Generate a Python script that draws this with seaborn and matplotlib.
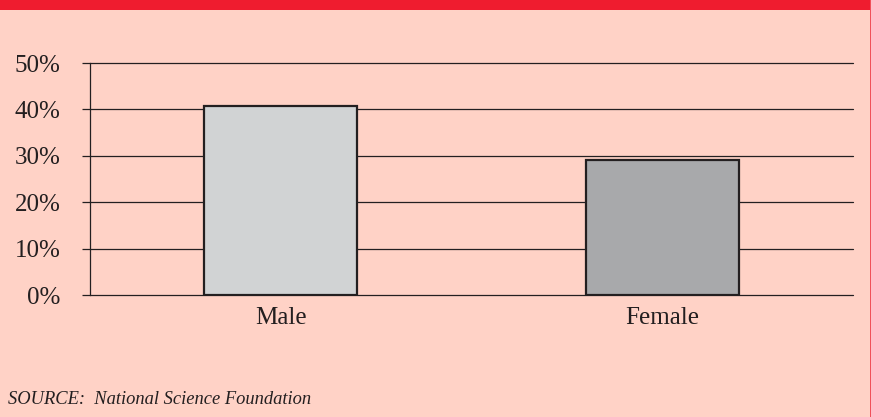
import matplotlib
matplotlib.use("Agg")
import matplotlib.pyplot as plt
import seaborn as sns
import pandas as pd
from matplotlib.patches import Rectangle
from matplotlib.ticker import FuncFormatter

categories = ["Male", "Female"]
values = [40.8, 29.0]
bar_colors = ["#D1D3D4", "#A7A9AC"]
yticks = [0, 10, 20, 30, 40, 50]
source = "SOURCE:  National Science Foundation"

bg = "#FFD2C6"
red = "#EF1C2F"

sns.set_theme(style="white")
plt.rcParams["font.family"] = ["Liberation Serif", "DejaVu Serif"]

W, H = 871, 417
fig = plt.figure(figsize=(W / 100, H / 100), dpi=100, facecolor=bg)
ax = fig.add_axes([90 / W, 1 - 295 / H, (853 - 90) / W, (295 - 63) / H])
ax.set_facecolor(bg)

df = pd.DataFrame({"cat": categories, "val": values})
sns.barplot(data=df, x="cat", y="val", hue="cat", palette=bar_colors, legend=False,
            width=0.4, edgecolor="#231F20", linewidth=1.6, ax=ax, zorder=3)

ax.set_xlim(-0.5, 1.5)
ax.set_ylim(0, 50)
ax.set_yticks(yticks)
ax.yaxis.set_major_formatter(FuncFormatter(lambda v, p: f"{int(v)}%"))
ax.yaxis.grid(True, color="#231F20", linewidth=0.9, zorder=0)
for gl in ax.get_ygridlines():
    gl.set_clip_on(False)
ax.set_axisbelow(True)
for s in ["top", "right", "bottom"]:
    ax.spines[s].set_visible(False)
ax.spines["left"].set_color("#231F20")
ax.spines["left"].set_linewidth(0.9)
ax.tick_params(axis="y", which="major", left=True, length=6, width=0.9, color="#231F20",
               pad=15, labelsize=18, labelcolor="#231F20")
ax.tick_params(axis="x", bottom=False, labelsize=18, labelcolor="#231F20", pad=3)
ax.set_xlabel("")
ax.set_ylabel("")

# header band and right border
fig.patches.append(Rectangle((0, 1 - 10 / H), 1, 10 / H, transform=fig.transFigure,
                             facecolor=red, edgecolor="none", zorder=10))
fig.patches.append(Rectangle((1 - 1.5 / W, 0), 1.5 / W, 1, transform=fig.transFigure,
                             facecolor="#F0505A", edgecolor="none", zorder=10))

fig.text(8 / W, 1 - 399 / H, source, fontsize=13.3, style="italic", color="#231F20",
         ha="left", va="center")

fig.savefig("out.png", dpi=100, facecolor=bg)
